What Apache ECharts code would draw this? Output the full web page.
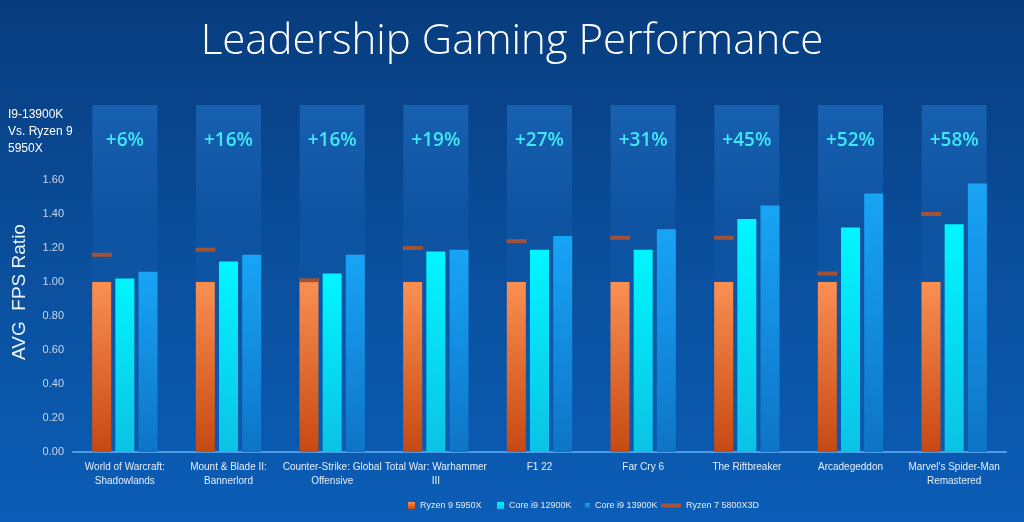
<!DOCTYPE html>
<html><head><meta charset="utf-8">
<script src="https://cdn.jsdelivr.net/npm/echarts@6/dist/echarts.min.js"></script>
<style>html,body{margin:0;padding:0;background:#0a4a92}#c{width:1024px;height:522px}</style>
</head><body><div id="c"></div>
<script>
const categories = ["World of Warcraft:\nShadowlands","Mount & Blade II:\nBannerlord","Counter-Strike: Global\nOffensive","Total War: Warhammer\nIII","F1 22","Far Cry 6","The Riftbreaker","Arcadegeddon","Marvel's Spider-Man\nRemastered"];
const ryzen9_5950X = [1.00,1.00,1.00,1.00,1.00,1.00,1.00,1.00,1.00];
const corei9_12900K = [1.02,1.12,1.05,1.18,1.19,1.19,1.37,1.32,1.34];
const corei9_13900K = [1.06,1.16,1.16,1.19,1.27,1.31,1.45,1.52,1.58];
const ryzen7_5800X3D = [1.16,1.19,1.01,1.20,1.24,1.26,1.26,1.05,1.40];
const upliftLabels = ["+6%","+16%","+16%","+19%","+27%","+31%","+45%","+52%","+58%"];
const yTicks = {min:0, max:1.6, interval:0.2};

const chart = echarts.init(document.getElementById('c'));
const lg = (stops)=>new echarts.graphic.LinearGradient(0,0,0,1,stops.map((c,i)=>({offset:i/(stops.length-1),color:c})));
const FONT = 'Liberation Sans';
const legTxt = {color:'#e6eef8',fontSize:9,fontFamily:FONT};
chart.setOption({
  animation:false,
  backgroundColor: lg(['#083c7e','#0a4f9c','#0b5db7']),
  title:{text:'Leadership Gaming Performance',left:'center',top:16,
    textStyle:{color:'#ffffff',fontSize:42,fontWeight:300,fontFamily:'Open Sans'}},
  graphic:[
    {type:'text',left:8,top:106,style:{text:'I9-13900K\nVs. Ryzen 9\n5950X',fill:'#ffffff',font:'12px Liberation Sans',lineHeight:17}},
    {type:'text',x:20,y:292,rotation:Math.PI/2,style:{text:'AVG  FPS Ratio',fill:'#eef4fb',font:'19px Liberation Sans',align:'center',verticalAlign:'middle'}}
  ],
  legend:[
    {data:['Ryzen 9 5950X'],left:403,top:496,itemWidth:7,itemHeight:7,itemGap:4,icon:'rect',textStyle:legTxt},
    {data:['Core i9 12900K'],left:492,top:496,itemWidth:7,itemHeight:7,itemGap:4,icon:'rect',textStyle:legTxt},
    {data:['Core i9 13900K'],left:580,top:496,itemWidth:5,itemHeight:5,itemGap:4,icon:'rect',textStyle:legTxt},
    {data:['Ryzen 7 5800X3D'],left:656,top:496,itemWidth:20,itemHeight:4,itemGap:5,icon:'rect',textStyle:legTxt}
  ],
  grid:[
    {left:73,right:18,top:180,bottom:70},
    {left:73,right:18,top:105,bottom:70}
  ],
  xAxis:[
    {type:'category',data:categories,gridIndex:0,
      axisLine:{lineStyle:{color:'#4d9de6',width:2}},axisTick:{show:false},
      axisLabel:{color:'#e6eef8',fontSize:10,fontFamily:FONT,interval:0,lineHeight:14,margin:8}},
    {type:'category',data:categories,gridIndex:1,show:false}
  ],
  yAxis:[
    {type:'value',gridIndex:0,min:yTicks.min,max:yTicks.max,interval:yTicks.interval,
      splitLine:{show:false},axisLine:{show:false},axisTick:{show:false},
      axisLabel:{color:'#c9d7ea',fontSize:11,fontFamily:FONT,margin:9,formatter:v=>v.toFixed(2)}},
    {type:'value',gridIndex:1,min:0,max:1,show:false}
  ],
  series:[
    {type:'bar',xAxisIndex:1,yAxisIndex:1,z:0,barWidth:65,silent:true,
      data:upliftLabels.map(()=>1),
      itemStyle:{color:new echarts.graphic.LinearGradient(0,0,0,1,[
        {offset:0,color:'rgba(45,140,235,0.4)'},{offset:0.35,color:'rgba(45,140,235,0.1)'},{offset:1,color:'rgba(45,140,235,0.0)'}])},
      label:{show:true,position:'insideTop',distance:26,formatter:p=>upliftLabels[p.dataIndex],
        color:'#3fe9f7',fontSize:19,fontWeight:600,fontFamily:'Open Sans'}},
    {name:'Ryzen 9 5950X',type:'bar',barWidth:19,barGap:'22%',data:ryzen9_5950X,
      itemStyle:{color:lg(['#fb8f52','#c64912'])}},
    {name:'Core i9 12900K',type:'bar',barWidth:19,barGap:'22%',data:corei9_12900K,
      itemStyle:{color:lg(['#00f6ff','#0cc2e4'])}},
    {name:'Core i9 13900K',type:'bar',barWidth:19,barGap:'22%',data:corei9_13900K,
      itemStyle:{color:lg(['#18a4f6','#0e74c6'])}},
    {name:'Ryzen 7 5800X3D',type:'scatter',z:5,symbol:'rect',symbolSize:[20,4],symbolOffset:[-23,0],
      data:ryzen7_5800X3D,itemStyle:{color:'#c8521c'}}
  ]
});
</script></body></html>
